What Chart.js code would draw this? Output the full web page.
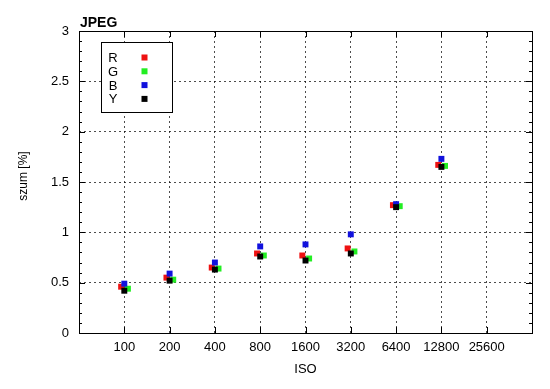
<!DOCTYPE html>
<html>
<head>
<meta charset="utf-8">
<script src="https://cdn.jsdelivr.net/npm/chart.js@4"></script>
<style>
  html, body { margin: 0; padding: 0; background: #fff; }
  #wrap { width: 550px; height: 389px; }
</style>
</head>
<body>
<div id="wrap"><canvas id="chartSzum" width="550" height="389"></canvas></div>
<script>
// ISO categories and noise values (szum, %) per channel
const isoLabels = ['100', '200', '400', '800', '1600', '3200', '6400', '12800', '25600'];
const szumR = [0.46, 0.55, 0.65, 0.79, 0.77, 0.84, 1.27, 1.67];
const szumG = [0.44, 0.53, 0.64, 0.77, 0.74, 0.81, 1.26, 1.66];
const szumB = [0.49, 0.59, 0.70, 0.86, 0.88, 0.98, 1.28, 1.73];
const szumY = [0.42, 0.52, 0.63, 0.76, 0.72, 0.79, 1.25, 1.65];
const yTicks = [0, 0.5, 1, 1.5, 2, 2.5, 3];

const FONT = 'Liberation Sans, Arial, sans-serif';

function toPoints(values, shift) {
    return values.map(function(v, i) { return { x: i + shift, y: v }; });
}

function makeSet(label, values, color, shift, order) {
    return {
        label: label,
        data: toPoints(values, shift),
        backgroundColor: color,
        borderColor: color,
        borderWidth: 0,
        pointStyle: 'rect',
        pointRadius: 4.2,
        showLine: false,
        order: order
    };
}

// frame, inward ticks, titles and gnuplot-like legend
const framePlugin = {
    id: 'frame',
    afterDraw(chart) {
        const ctx = chart.ctx;
        const a = chart.chartArea;
        const xs = chart.scales.x, ys = chart.scales.y;
        ctx.save();
        ctx.strokeStyle = '#000';
        ctx.lineWidth = 1;
        ctx.strokeRect(Math.round(a.left) + 0.5, Math.round(a.top) + 0.5,
            Math.round(a.right - a.left), Math.round(a.bottom - a.top));

        ctx.beginPath();
        for (let v = 0; v <= 3.0001; v += 0.1) {
            const py = Math.round(ys.getPixelForValue(v)) + 0.5;
            const major = Math.abs(v * 2 - Math.round(v * 2)) < 0.001;
            const len = major ? 6 : 3;
            ctx.moveTo(a.left, py); ctx.lineTo(a.left + len, py);
            ctx.moveTo(a.right, py); ctx.lineTo(a.right - len, py);
        }
        isoLabels.forEach(function(_, i) {
            const px = Math.round(xs.getPixelForValue(i)) + 0.5;
            ctx.moveTo(px, a.bottom); ctx.lineTo(px, a.bottom - 6);
            ctx.moveTo(px, a.top); ctx.lineTo(px, a.top + 6);
        });
        ctx.stroke();

        // title
        ctx.fillStyle = '#000';
        ctx.font = 'bold 14px ' + FONT;
        ctx.textAlign = 'left';
        ctx.textBaseline = 'alphabetic';
        ctx.fillText('JPEG', a.left + 1, a.top - 4);

        // y axis title
        ctx.save();
        ctx.translate(26.5, 176);
        ctx.rotate(-Math.PI / 2);
        ctx.font = '12px ' + FONT;
        ctx.textAlign = 'center';
        ctx.fillText('szum [%]', 0, 0);
        ctx.restore();

        // legend box
        const bx = a.left + 22.5, by = a.top + 11.5, bw = 71, bh = 70;
        ctx.fillStyle = '#fff';
        ctx.fillRect(bx, by, bw, bh);
        ctx.strokeRect(bx, by, bw, bh);
        ctx.font = '13px ' + FONT;
        ctx.textAlign = 'center';
        ctx.textBaseline = 'middle';
        chart.data.datasets.forEach(function(ds, i) {
            const ly = by + 15 + i * 13.8;
            ctx.fillStyle = '#000';
            ctx.fillText(ds.label, bx + 11.5, ly + 1);
            ctx.fillStyle = ds.backgroundColor;
            ctx.fillRect(bx + 40, ly - 3, 6, 6);
        });
        ctx.restore();
    }
};

document.addEventListener('DOMContentLoaded', function() {
    const ctx = document.getElementById('chartSzum').getContext('2d');

    new Chart(ctx, {
        type: 'scatter',
        data: {
            datasets: [
                makeSet('R', szumR, '#ee1111', -0.07, 3),
                makeSet('G', szumG, '#22ee22', 0.08, 2),
                makeSet('B', szumB, '#1111dd', 0, 1),
                makeSet('Y', szumY, '#000000', 0, 0)
            ]
        },
        options: {
            responsive: false,
            animation: false,
            layout: { padding: { left: 0, top: 31, right: 18, bottom: 0 } },
            plugins: {
                legend: { display: false },
                tooltip: { enabled: false }
            },
            scales: {
                x: {
                    type: 'linear',
                    min: -1,
                    max: 9,
                    afterBuildTicks: function(scale) {
                        scale.ticks = isoLabels.map(function(_, i) { return { value: i }; });
                    },
                    afterFit: function(scale) { scale.height = 56; },
                    grid: { color: 'rgba(0,0,0,0.7)', drawTicks: false },
                    border: { display: false, dash: [2, 3] },
                    ticks: {
                        color: '#000',
                        padding: 7,
                        maxRotation: 0,
                        autoSkip: false,
                        font: { family: FONT, size: 13 },
                        callback: function(v) { return isoLabels[v]; }
                    },
                    title: {
                        display: true,
                        text: 'ISO',
                        color: '#000',
                        font: { family: FONT, size: 13 },
                        padding: { top: 0, bottom: 12 }
                    }
                },
                y: {
                    min: 0,
                    max: 3,
                    afterBuildTicks: function(scale) {
                        scale.ticks = yTicks.map(function(v) { return { value: v }; });
                    },
                    afterFit: function(scale) { scale.width = 79; },
                    grid: { color: 'rgba(0,0,0,0.7)', drawTicks: false },
                    border: { display: false, dash: [2, 3] },
                    ticks: {
                        color: '#000',
                        padding: 10,
                        font: { family: FONT, size: 13 },
                        callback: function(v) { return String(v); }
                    }
                }
            }
        },
        plugins: [framePlugin]
    });
});
</script>
</body>
</html>
